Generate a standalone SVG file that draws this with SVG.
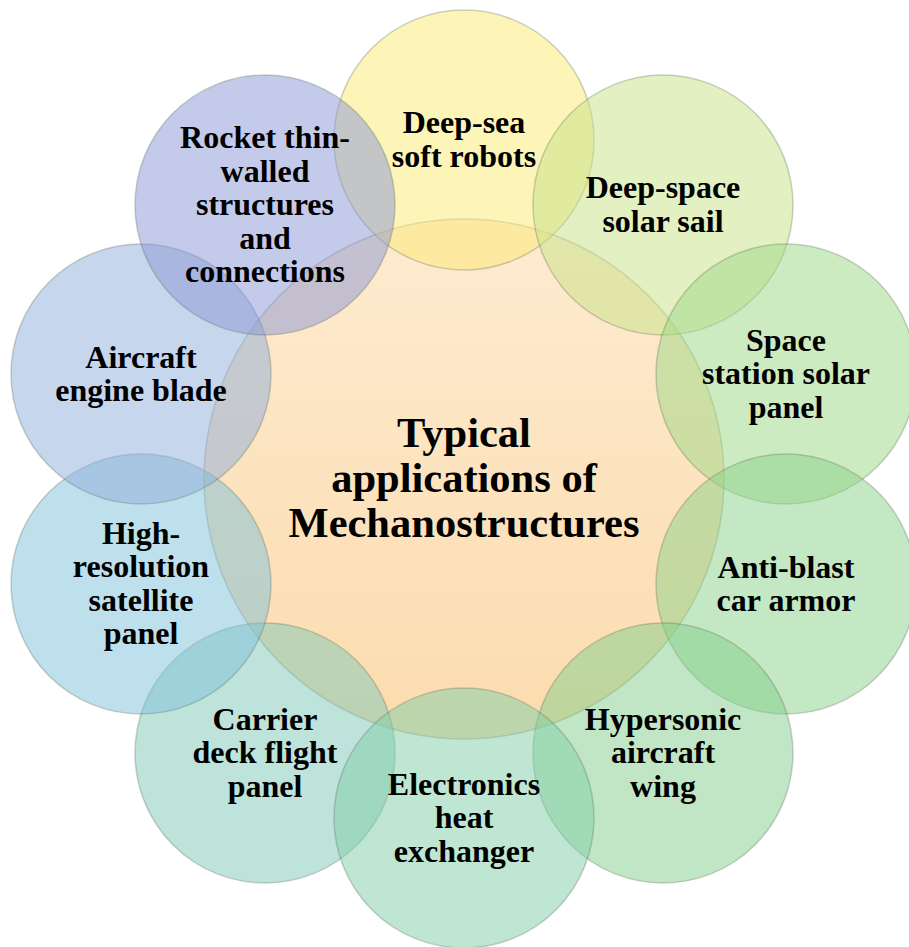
<svg xmlns="http://www.w3.org/2000/svg" width="909" height="947" viewBox="0 0 909 947">
  <defs>
    <linearGradient id="gCenter" x1="0" y1="0" x2="0" y2="1">
      <stop offset="0" stop-color="#FEEBD0"/>
      <stop offset="1" stop-color="#FBDCAE"/>
    </linearGradient>
    <style>
      .ring { fill-opacity: 0.5; stroke: #5a6a5a; stroke-opacity: 0.3; stroke-width: 1.5; }
      .lbl { font-family: "Liberation Serif", "Times New Roman", serif; font-weight: bold; font-size: 32px; fill: #000; text-anchor: middle; }
      .title { font-family: "Liberation Serif", "Times New Roman", serif; font-weight: bold; font-size: 42.5px; fill: #000; text-anchor: middle; }
    </style>
  </defs>
  <rect x="0" y="0" width="909" height="947" fill="#FFFFFF"/>
  <g id="connectors"></g>

  <g id="node-center">
    <circle cx="464" cy="479" r="260" fill="url(#gCenter)" stroke="#5a6a5a" stroke-opacity="0.3" stroke-width="1.5"/>
    <text class="title"><tspan x="464" y="447">Typical</tspan><tspan x="464" y="492">applications of</tspan><tspan x="464" y="537">Mechanostructures</tspan></text>
  </g>

  <g id="node-deep-sea">
    <circle class="ring" cx="464" cy="140" r="130" fill="#FBE971"/>
    <text class="lbl"><tspan x="464" y="133">Deep-sea</tspan><tspan x="464" y="166.5">soft robots</tspan></text>
  </g>

  <g id="node-deep-space">
    <circle class="ring" cx="663" cy="205" r="130" fill="#C5E185"/>
    <text class="lbl"><tspan x="663" y="198">Deep-space</tspan><tspan x="663" y="231.5">solar sail</tspan></text>
  </g>

  <g id="node-space-station">
    <circle class="ring" cx="786" cy="374" r="130" fill="#9BD783"/>
    <text class="lbl"><tspan x="786" y="350.5">Space</tspan><tspan x="786" y="384">station solar</tspan><tspan x="786" y="417.5">panel</tspan></text>
  </g>

  <g id="node-anti-blast">
    <circle class="ring" cx="786" cy="584" r="130" fill="#89D187"/>
    <text class="lbl"><tspan x="786" y="577.5">Anti-blast</tspan><tspan x="786" y="611">car armor</tspan></text>
  </g>

  <g id="node-hypersonic">
    <circle class="ring" cx="663" cy="753" r="130" fill="#81CD8B"/>
    <text class="lbl"><tspan x="663" y="729.5">Hypersonic</tspan><tspan x="663" y="763">aircraft</tspan><tspan x="663" y="796.5">wing</tspan></text>
  </g>

  <g id="node-carrier">
    <circle class="ring" cx="265" cy="753" r="130" fill="#7DC7B7"/>
    <text class="lbl"><tspan x="265" y="729.5">Carrier</tspan><tspan x="265" y="763">deck flight</tspan><tspan x="265" y="796.5">panel</tspan></text>
  </g>

  <g id="node-electronics">
    <circle class="ring" cx="464" cy="818" r="130" fill="#7FCDA7"/>
    <text class="lbl"><tspan x="464" y="794.5">Electronics</tspan><tspan x="464" y="828">heat</tspan><tspan x="464" y="861.5">exchanger</tspan></text>
  </g>

  <g id="node-high-resolution">
    <circle class="ring" cx="141" cy="584" r="130" fill="#7DBFD9"/>
    <text class="lbl"><tspan x="141" y="543.75">High-</tspan><tspan x="141" y="577.25">resolution</tspan><tspan x="141" y="610.75">satellite</tspan><tspan x="141" y="644.25">panel</tspan></text>
  </g>

  <g id="node-aircraft-engine">
    <circle class="ring" cx="141" cy="374" r="130" fill="#8DADD9"/>
    <text class="lbl"><tspan x="141" y="367.5">Aircraft</tspan><tspan x="141" y="401">engine blade</tspan></text>
  </g>

  <g id="node-rocket">
    <circle class="ring" cx="265" cy="205" r="130" fill="#8995D3"/>
    <text class="lbl"><tspan x="265" y="148">Rocket thin-</tspan><tspan x="265" y="181.5">walled</tspan><tspan x="265" y="215">structures</tspan><tspan x="265" y="248.5">and</tspan><tspan x="265" y="282">connections</tspan></text>
  </g>
</svg>
